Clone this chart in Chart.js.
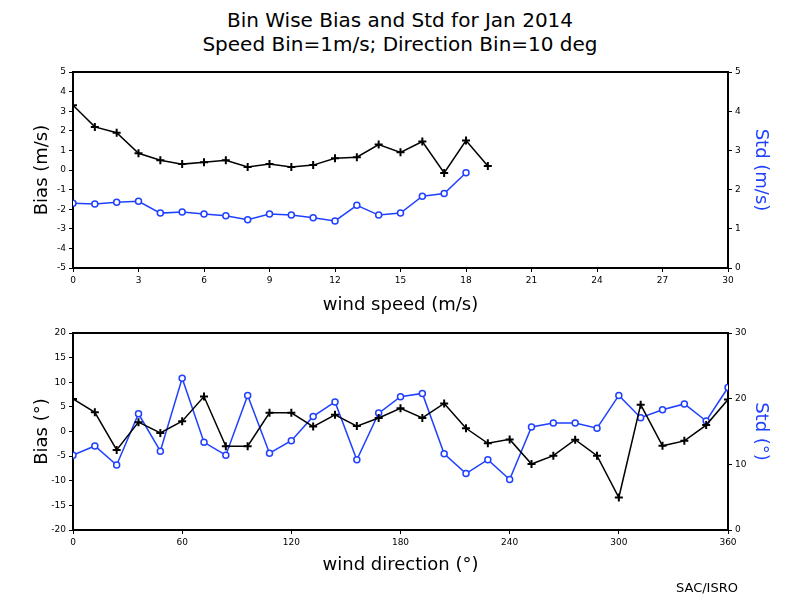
<!DOCTYPE html>
<html>
<head>
<meta charset="utf-8">
<script src="https://cdn.jsdelivr.net/npm/chart.js@4"></script>
<style>
  body { margin: 0; background: #fff; width: 800px; height: 600px; position: relative; overflow: hidden; font-family: "DejaVu Sans"; }
  .title { position: absolute; left: 0; width: 800px; text-align: center; font-size: 20px; color: #000; }
  canvas { position: absolute; left: 0; }
  #credit { position: absolute; left: 676px; top: 580px; font-size: 13px; }
</style>
</head>
<body>
<div class="title" style="top:8px">Bin Wise Bias and Std for Jan 2014</div>
<div class="title" style="top:32px">Speed Bin=1m/s; Direction Bin=10 deg</div>
<canvas id="speedChart" style="top:0" width="800" height="320"></canvas>
<canvas id="dirChart" style="top:320px" width="800" height="280"></canvas>
<div id="credit">SAC/ISRO</div>
<script>
const speedBins = [0,1,2,3,4,5,6,7,8,9,10,11,12,13,14,15,16,17,18,19];
const speedBias = [3.3,2.2,1.9,0.85,0.5,0.3,0.4,0.5,0.15,0.3,0.15,0.25,0.6,0.65,1.3,0.9,1.45,-0.15,1.5,0.2];
const speedStd  = [1.65,1.63,1.68,1.7,1.4,1.43,1.38,1.33,1.23,1.38,1.35,1.28,1.2,1.6,1.35,1.4,1.83,1.9,2.43];

const dirBins = [0,12,24,36,48,60,72,84,96,108,120,132,144,156,168,180,192,204,216,228,240,252,264,276,288,300,312,324,336,348,360];
const dirBias = [6.6,3.9,-3.75,1.9,-0.3,2.1,7.1,-3,-3,3.8,3.8,1.0,3.4,1.1,2.75,4.7,2.75,5.7,0.65,-2.4,-1.6,-6.6,-4.9,-1.65,-4.9,-13.4,5.45,-2.9,-1.9,1.3,6.5];
const dirStd  = [11.4,12.8,9.9,17.7,12.0,23.1,13.35,11.4,20.5,11.7,13.6,17.3,19.5,10.7,17.8,20.3,20.8,11.6,8.6,10.7,7.7,15.7,16.3,16.3,15.5,20.5,17.1,18.3,19.2,16.6,21.7];

const blue = "#2040ff";
const tickFont = { family: "DejaVu Sans", size: 9 };
const titleFont = { family: "DejaVu Sans", size: 18 };

function fixW(w) { return s => { s.width = w; }; }
function fixH(h) { return s => { s.height = h; }; }

function makeChart(id, xs, bias, std, cfg)
{
    const toPts = (vals) => vals.map((v, i) => ({ x: xs[i], y: v }));
    return new Chart(document.getElementById(id), {
        type: 'line',
        data: {
            datasets: [
                { data: toPts(bias), yAxisID: 'y', borderColor: '#000', borderWidth: 1.5,
                  pointStyle: 'cross', pointRadius: 4, pointBorderWidth: 2, pointBorderColor: '#000' },
                { data: toPts(std), yAxisID: 'y2', borderColor: blue, borderWidth: 1.5,
                  pointStyle: 'circle', pointRadius: 3, pointBorderWidth: 1.5,
                  pointBorderColor: blue, pointBackgroundColor: '#fff' }
            ]
        },
        options: {
            responsive: false, animation: false,
            layout: { padding: cfg.padding },
            plugins: { legend: { display: false }, tooltip: { enabled: false } },
            scales: {
                x: {
                    type: 'linear', min: cfg.xMin, max: cfg.xMax,
                    ticks: { stepSize: cfg.xStep, font: tickFont, color: '#000', maxRotation: 0 },
                    grid: { drawOnChartArea: false, color: '#000', tickLength: 4 },
                    border: { color: '#000', width: 2 },
                    title: { display: true, text: cfg.xTitle, font: titleFont, color: '#000' },
                    afterFit: fixH(cfg.xH)
                },
                y: {
                    position: 'left', min: cfg.yMin, max: cfg.yMax,
                    ticks: { stepSize: cfg.yStep, font: tickFont, color: '#000' },
                    grid: { drawOnChartArea: false, color: '#000', tickLength: 4 },
                    border: { color: '#000', width: 2 },
                    title: { display: true, text: cfg.yTitle, font: titleFont, color: '#000' },
                    afterFit: fixW(45)
                },
                y2: {
                    position: 'right', min: cfg.sMin, max: cfg.sMax,
                    ticks: { stepSize: cfg.sStep, font: tickFont, color: '#000' },
                    grid: { drawOnChartArea: false, color: '#000', tickLength: 4 },
                    border: { color: '#000', width: 2 },
                    title: { display: true, text: cfg.sTitle, font: titleFont, color: blue },
                    afterFit: fixW(47)
                }
            }
        },
        plugins: [{
            id: 'topFrame',
            afterDraw: c => {
                const a = c.chartArea, g = c.ctx;
                g.save(); g.strokeStyle = '#000'; g.lineWidth = 2;
                g.beginPath(); g.moveTo(a.left, a.top); g.lineTo(a.right, a.top); g.stroke();
                g.restore();
            }
        }]
    });
}

makeChart('speedChart', speedBins, speedBias, speedStd, {
    padding: { top: 72, bottom: 0, left: 28, right: 25 },
    xMin: 0, xMax: 30, xStep: 3, xTitle: 'wind speed (m/s)', xH: 52,
    yMin: -5, yMax: 5, yStep: 1, yTitle: 'Bias (m/s)',
    sMin: 0, sMax: 5, sStep: 1, sTitle: 'Std (m/s)'
});

makeChart('dirChart', dirBins, dirBias, dirStd, {
    padding: { top: 13, bottom: 20, left: 28, right: 25 },
    xMin: 0, xMax: 360, xStep: 60, xTitle: 'wind direction (°)', xH: 50,
    yMin: -20, yMax: 20, yStep: 5, yTitle: 'Bias (°)',
    sMin: 0, sMax: 30, sStep: 10, sTitle: 'Std (°)'
});
</script>
</body>
</html>
